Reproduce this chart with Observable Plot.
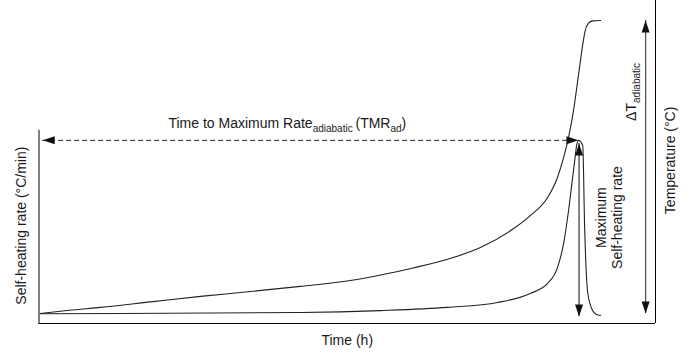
<!DOCTYPE html>
<html>
<head>
<meta charset="utf-8">
<script src="https://cdn.jsdelivr.net/npm/d3@7"></script>
<script src="https://cdn.jsdelivr.net/npm/@observablehq/plot@0.6"></script>
<style>
  html, body { margin: 0; padding: 0; background: #fff; }
  #chart svg { display: block; }
</style>
</head>
<body>
<div id="chart"></div>
<script>
// ---- Data (schematic units: time 0–100, value 0–100) ----
const tempTime  = [0.2, 4.9, 10.0, 18.1, 26.2, 34.3, 42.4, 50.5, 55.4, 60.7, 66.3, 71.6, 77.0, 79.7, 82.5, 84.1, 85.1, 85.9, 86.7, 87.5, 88.3, 88.6, 89.1, 89.8, 91.1];
const tempValue = [3.1, 4.1, 5.0, 6.7, 8.4, 9.9, 11.5, 13.3, 15.0, 17.2, 19.9, 23.5, 29.4, 33.4, 39.0, 45.2, 51.4, 57.6, 65.9, 76.8, 87.6, 90.7, 92.9, 93.7, 93.8];

const rateTime  = [0.2, 13.2, 42.4, 55.4, 66.3, 74.4, 79.7, 82.5, 84.1, 85.1, 85.9, 86.5, 86.9, 87.2, 87.5, 88.2, 88.5, 89.0, 89.8, 90.4, 91.1];
const rateValue = [3.0, 3.1, 3.4, 4.0, 5.0, 6.5, 9.3, 12.4, 17.3, 24.8, 35.0, 44.3, 50.5, 55.1, 56.7, 55.1, 30.3, 9.6, 4.0, 2.8, 2.5];

// axis frame: left, bottom, right
const frameLeft   = {x: 0,   y1: 0, y2: 59.8};
const frameBottom = {y: 0,   x1: 0, x2: 100};
const frameRight  = {x: 100, y1: 0, y2: 100};

// annotation arrows
const tmrArrow   = {x1: 0.6,  x2: 87.5, y: 56.7};
const maxArrow   = {x: 87.6, y1: 2.2, y2: 55.7};
const deltaArrow = {x: 98.4, y1: 3.1, y2: 93.8};

const arrowHeads = [
  {x: tmrArrow.x1, y: tmrArrow.y, dir: "left"},
  {x: tmrArrow.x2, y: tmrArrow.y, dir: "right"},
  {x: maxArrow.x, y: maxArrow.y2, dir: "up"},
  {x: maxArrow.x, y: maxArrow.y1, dir: "down"},
  {x: deltaArrow.x, y: deltaArrow.y2, dir: "up"},
  {x: deltaArrow.x, y: deltaArrow.y1, dir: "down"}
];

// labels
const labels = [
  {text: "Time to Maximum Rate_{adiabatic }(TMR_{ad})", x: 21.0, y: 62.1, rotate: 0, anchor: "start"},
  {text: "Time (h)", x: 50.0, y: -5.1, rotate: 0, anchor: "middle"},
  {text: "Self-heating rate (°C/min)", x: -2.9, y: 30.3, rotate: -90, anchor: "middle"},
  {text: "Temperature (°C)", x: 102.3, y: 50.5, rotate: -90, anchor: "middle"},
  {text: "ΔT_{adiabatic}", x: 96.0, y: 71.7, rotate: -90, anchor: "middle"},
  {text: "Maximum\nSelf-heating rate", x: 92.45, y: 32.8, rotate: -90, anchor: "middle"}
];

// ---- Helpers ----
const tempData = tempTime.map((t, i) => ({t, v: tempValue[i]}));
const rateData = rateTime.map((t, i) => ({t, v: rateValue[i]}));

function headSymbol(dir) {
  const L = 12, W = 4;
  return {
    draw(ctx) {
      ctx.moveTo(0, 0);
      if (dir === "up")    { ctx.lineTo(-W, L); ctx.lineTo(W, L); }
      if (dir === "down")  { ctx.lineTo(-W, -L); ctx.lineTo(W, -L); }
      if (dir === "left")  { ctx.lineTo(L, -W); ctx.lineTo(L, W); }
      if (dir === "right") { ctx.lineTo(-L, -W); ctx.lineTo(-L, W); }
      ctx.closePath();
    }
  };
}

const ink = "#1a1a1a";
const headMarks = ["up", "down", "left", "right"].map(dir =>
  Plot.dot(arrowHeads.filter(d => d.dir === dir), {
    x: "x", y: "y", symbol: headSymbol(dir), r: 4, fill: "#111", stroke: "none"
  })
);

const labelMarks = labels.map(d =>
  Plot.text([d], {
    x: "x", y: "y", text: "text", rotate: d.rotate, textAnchor: d.anchor,
    lineAnchor: "middle", lineHeight: 1.14, fontSize: 14, fill: ink
  })
);

const svg = Plot.plot({
  width: 697,
  height: 354,
  marginLeft: 38.5,
  marginRight: 42,
  marginTop: 0,
  marginBottom: 31,
  x: {domain: [0, 100], axis: null},
  y: {domain: [0, 100], axis: null},
  style: {fontFamily: "'Liberation Sans', Arial, sans-serif", background: "#fff", overflow: "visible"},
  marks: [
    Plot.ruleX([frameLeft], {x: "x", y1: "y1", y2: "y2", stroke: "#000", strokeWidth: 1}),
    Plot.ruleY([frameBottom], {y: "y", x1: "x1", x2: "x2", stroke: "#000", strokeWidth: 1}),
    Plot.ruleX([frameRight], {x: "x", y1: "y1", y2: "y2", stroke: "#000", strokeWidth: 1}),
    Plot.line(tempData, {x: "t", y: "v", curve: "monotone-x", stroke: "#222", strokeWidth: 1.1}),
    Plot.line(rateData, {x: "t", y: "v", curve: "monotone-x", stroke: "#222", strokeWidth: 1.1}),
    Plot.ruleY([tmrArrow], {y: "y", x1: "x1", x2: "x2", stroke: "#222", strokeWidth: 1, strokeDasharray: "5,3"}),
    Plot.ruleX([maxArrow], {x: "x", y1: "y1", y2: "y2", stroke: "#444", strokeWidth: 1.3}),
    Plot.ruleX([deltaArrow], {x: "x", y1: "y1", y2: "y2", stroke: "#555", strokeWidth: 1.3}),
    ...headMarks,
    ...labelMarks
  ]
});

// subscripts: turn "_{...}" into lowered, smaller tspans
svg.querySelectorAll("text").forEach(t => {
  if (t.children.length === 0 && t.textContent.includes("_{")) {
    const s = t.textContent;
    t.textContent = "";
    const re = /_\{([^}]*)\}/g;
    let last = 0, m, shifted = false;
    const ns = "http://www.w3.org/2000/svg";
    while ((m = re.exec(s))) {
      if (m.index > last) {
        const n = document.createElementNS(ns, "tspan");
        n.textContent = s.slice(last, m.index);
        if (shifted) { n.setAttribute("dy", "-4"); shifted = false; }
        t.appendChild(n);
      }
      const sub = document.createElementNS(ns, "tspan");
      sub.textContent = m[1];
      sub.setAttribute("font-size", "10px");
      sub.setAttribute("dy", "4");
      t.appendChild(sub);
      shifted = true;
      last = re.lastIndex;
    }
    if (last < s.length) {
      const n = document.createElementNS(ns, "tspan");
      n.textContent = s.slice(last);
      if (shifted) n.setAttribute("dy", "-4");
      t.appendChild(n);
    }
  }
});

document.getElementById("chart").appendChild(svg);
</script>
</body>
</html>
